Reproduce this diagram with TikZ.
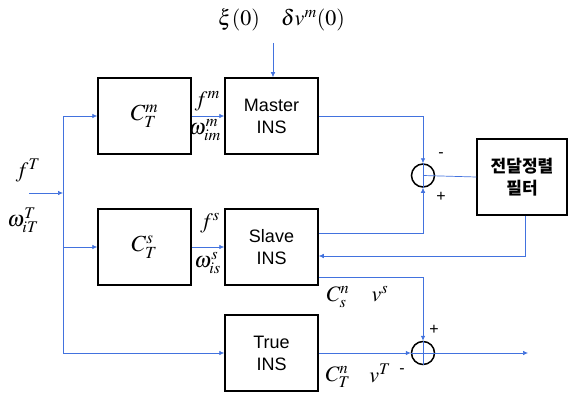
\documentclass[tikz,border=0pt]{standalone}
\usepackage{mathptmx}
\usepackage{fontspec}
\setsansfont{Liberation Sans}
\newfontfamily\kofont{Noto Sans CJK KR}
\usetikzlibrary{arrows.meta}
\definecolor{linkblue}{RGB}{66,114,222}
\begin{document}
\begin{tikzpicture}[x=1pt, y=-1pt, >={Latex[length=5pt,width=4.5pt]}]
  \tikzset{blk/.style={draw, line width=1.5pt, minimum width=93pt, minimum height=76pt,
      inner sep=0pt, align=center, font=\sffamily\fontsize{18}{22}\selectfont}}
  \tikzset{sum/.style={draw, circle, line width=1.5pt, minimum size=23pt, inner sep=0pt}}
  \tikzset{lnk/.style={linkblue, line width=0.7pt}}
  \tikzset{mth/.style={inner sep=0pt, font=\fontsize{22}{24}\selectfont}}
  \tikzset{sgn/.style={inner sep=0pt, font=\sffamily\fontsize{16}{18}\selectfont}}
  \useasboundingbox (0,0) rectangle (569,393);
  % blocks
  \node[blk] (CTm) at (144.5,116) {\fontsize{23}{24}\selectfont$C^{m}_{T}$};
  \node[blk] (mst) at (271.5,116) {Master\\INS};
  \node[blk] (CTs) at (144.5,247) {\fontsize{23}{24}\selectfont$C^{s}_{T}$};
  \node[blk] (slv) at (271.5,247) {Slave\\INS};
  \node[blk] (tru) at (271.5,353) {True\\INS};
  \node[blk, minimum width=90pt, font=\kofont\bfseries\fontsize{17}{22}\selectfont]
    (flt) at (522,177) {전달정렬\\필터};
  \node[sum] (s1) at (423,175.5) {};
  \node[sum] (s2) at (423,353) {};
  % free ends
  \coordinate (fin) at (29,193);
  \coordinate (busT) at (63,116);
  \coordinate (busB) at (63,353);
  \coordinate (xin) at (273,43);
  \coordinate (vout) at (528,353);
  % links
  \draw[lnk,->] (fin) -- (fin -| busT);
  \draw[lnk] (busT) -- (busB);
  \draw[lnk,->] (busT) -- (CTm.west);
  \draw[lnk,->] (busT |- CTs.west) -- (CTs.west);
  \draw[lnk,->] (busB) -- (tru.west);
  \draw[lnk,->] (CTm.east) -- (mst.west);
  \draw[lnk,->] (CTs.east) -- (slv.west);
  \draw[lnk,->] (xin) -- (xin |- mst.north);
  \draw[lnk,->] (mst.east) -| (s1.north);
  \draw[lnk,->] ([yshift=14pt]slv.east) -| (s1.south);
  \draw[lnk] (s1.north) -- (s1.south);
  \draw[lnk] (s1.center) -- (flt.west);
  \draw[lnk,->] ([xshift=3pt]flt.south) |- ([yshift=-9pt]slv.east);
  \draw[lnk,->] ([yshift=-30pt]slv.east) -| (s2.north);
  \draw[lnk,->] (tru.east) -- (s2.west);
  \draw[lnk] (s2.west) -- (s2.east);
  \draw[lnk] (s2.north) -- (s2.south);
  \draw[lnk,->] (s2.east) -- (vout);
  % labels
  \node[mth] (lfT) at (28,171) {$f^{T}$};
  \node[mth] (lwT) at (23,220) {$\omega^{T}_{iT}$};
  \node[mth, anchor=east] (lfm) at (220,101) {$f^{m}$};
  \node[mth, anchor=east] (lwm) at (221,130) {$\omega^{m}_{im}$};
  \node[mth, anchor=east] (lfs) at (220,223) {$f^{s}$};
  \node[mth, anchor=east] (lws) at (221,263) {$\omega^{s}_{is}$};
  \node[mth] (lxi) at (239,20) {$\xi(0)$};
  \node[mth] (ldv) at (313,20) {$\delta v^{m}(0)$};
  \node[mth] (lCs) at (338,297) {$C^{n}_{s}$};
  \node[mth] (lvs) at (380,294) {$v^{s}$};
  \node[mth] (lCT) at (338,377) {$C^{n}_{T}$};
  \node[mth] (lvT) at (380,373) {$v^{T}$};
  \node[sgn] (m1) at (441,155) {-};
  \node[sgn] (p1) at (441,197) {+};
  \node[sgn] (p2) at (434,330) {+};
  \node[sgn] (m2) at (402,371) {-};
\end{tikzpicture}
\end{document}
